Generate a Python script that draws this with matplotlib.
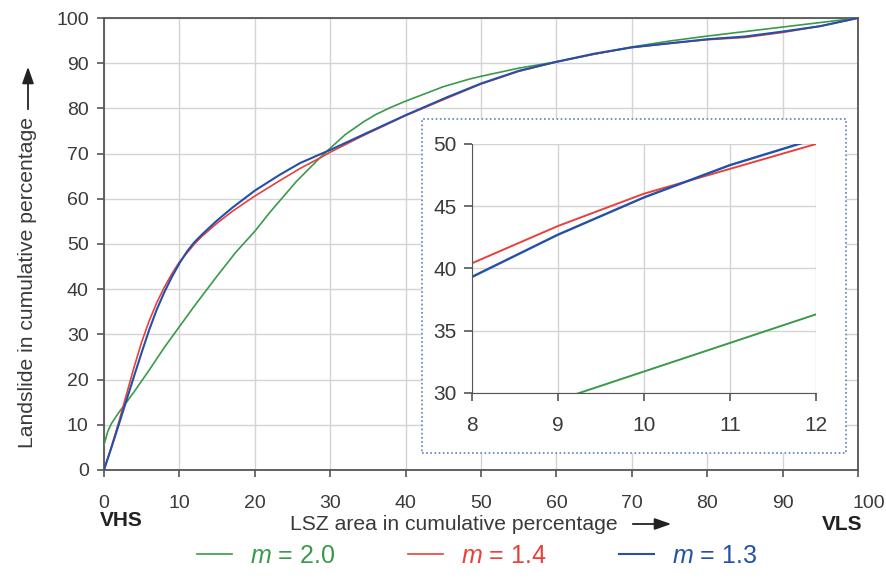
import matplotlib
matplotlib.use("Agg")
import matplotlib.pyplot as plt
from matplotlib.patches import Rectangle
from matplotlib.transforms import ScaledTranslation

plt.rcParams['font.family'] = ['Liberation Sans', 'DejaVu Sans']
plt.rcParams['mathtext.fontset'] = 'custom'
plt.rcParams['mathtext.rm'] = 'Liberation Sans'
plt.rcParams['mathtext.it'] = 'Liberation Sans:italic'

# cumulative curves (x = LSZ area %, y = landslide %)
green_x = [0, 0.5, 1, 2, 3, 4, 5, 6, 7, 8, 9, 10, 11, 12, 13, 15, 17.5, 20, 22, 25.5,
           28.6, 30, 32, 34.4, 36, 38, 40, 42.5, 45, 48.5, 50, 55, 60, 65, 70, 75, 80,
           85, 90, 95, 100]
green_y = [5.5, 8.5, 10.3, 12.8, 15.0, 17.3, 19.7, 22.1, 24.6, 27.1, 29.4, 31.7, 34.0, 36.3,
           38.5, 42.9, 48.2, 52.8, 57.0, 63.8, 69.0, 71.2, 74.2, 77.0, 78.6, 80.2, 81.6,
           83.2, 84.8, 86.5, 87.1, 88.9, 90.3, 92.0, 93.6, 94.9, 96.0, 97.0, 98.0, 99.0, 100]

red_x = [0, 1, 2, 3, 4, 5, 6, 7, 8, 9, 10, 10.5, 11, 12, 13, 15, 17, 20, 23.3, 26,
         28.6, 30, 34.4, 40, 45.4, 50, 55, 60, 65, 70, 75, 80, 85, 90, 95, 100]
red_y = [0, 5.2, 10.8, 16.8, 22.8, 28.3, 33.0, 37.0, 40.4, 43.4, 46.0, 47.0, 48.0, 50.0, 51.7,
         54.6, 57.2, 60.6, 64.0, 66.7, 69.0, 70.3, 74.0, 78.4, 82.2, 85.4, 88.2, 90.3, 92.0,
         93.5, 94.4, 95.2, 95.7, 96.8, 98.2, 100]

blue_x = [0, 1, 2, 3, 4, 5, 6, 7, 8, 9, 10, 10.5, 11, 11.8, 12, 13, 15, 17, 20, 23.3,
          26, 28.6, 30, 34.4, 40, 45.4, 50, 55, 60, 65, 70, 75, 80, 85, 90, 95, 100]
blue_y = [0, 5.0, 10.2, 15.5, 20.8, 26.0, 31.0, 35.5, 39.3, 42.7, 45.7, 47.0, 48.3, 50.0, 50.4,
          52.1, 55.2, 58.0, 61.8, 65.3, 67.9, 69.8, 70.8, 74.2, 78.5, 82.4, 85.5, 88.3, 90.3,
          92.1, 93.5, 94.4, 95.3, 95.9, 97.0, 98.2, 100]

labels = [r'$m$ = 2.0', r'$m$ = 1.4', r'$m$ = 1.3']
colors = ['#3a9a4a', '#e8413c', '#2350a8']
widths = [1.2, 1.2, 1.5]
series = [(green_x, green_y), (red_x, red_y), (blue_x, blue_y)]

main_xticks = list(range(0, 101, 10))
main_yticks = list(range(0, 101, 10))
inset_xticks = [8, 9, 10, 11, 12]
inset_yticks = [30, 35, 40, 45, 50]

grid_c = '#d4d4d4'
spine_c = '#555555'
text_c = '#3a3a3a'

fig = plt.figure(figsize=(8.87, 5.79), dpi=100)
ax = fig.add_axes([0.1172, 0.1883, 0.8501, 0.7806])

handles = []
for (xs, ys), lab, c, lw in zip(series, labels, colors, widths):
    h, = ax.plot(xs, ys, color=c, lw=lw, label=lab, zorder=4)
    handles.append(h)

ax.set_xlim(0, 100)
ax.set_ylim(0, 100)
ax.set_xticks(main_xticks)
ax.set_yticks(main_yticks)
ax.grid(True, color=grid_c, lw=1.0)
ax.set_axisbelow(True)
for s in ax.spines.values():
    s.set_color(spine_c)
    s.set_linewidth(1.3)
ax.tick_params(axis='x', length=5, width=1.2, color=spine_c, pad=13, labelsize=14, labelcolor=text_c)
ax.tick_params(axis='y', length=5, width=1.2, color=spine_c, pad=6, labelsize=14, labelcolor=text_c)
# last x label sits a bit to the right and runs off the edge
last = ax.get_xticklabels()[-1]
last.set_transform(last.get_transform() + ScaledTranslation(0.11, 0, fig.dpi_scale_trans))

# axis titles with arrows
fig.text(290 / 887, 1 - 525 / 579, 'LSZ area in cumulative percentage', fontsize=15.2,
         color=text_c, ha='left', va='center')
fig.text(28 / 887, 1 - 282 / 579, 'Landslide in cumulative percentage', fontsize=15.2,
         color=text_c, ha='center', va='center', rotation=90)
arrow = dict(arrowstyle='-|>,head_length=1.0,head_width=0.35', color='#222222', lw=1.3)
ax.annotate('', xy=(674 / 887, 1 - 524 / 579), xytext=(630 / 887, 1 - 524 / 579),
            xycoords='figure fraction', textcoords='figure fraction', arrowprops=arrow)
ax.annotate('', xy=(28 / 887, 1 - 64 / 579), xytext=(28 / 887, 1 - 112 / 579),
            xycoords='figure fraction', textcoords='figure fraction', arrowprops=arrow)
fig.text(100 / 887, 1 - 521 / 579, 'VHS', fontsize=15, fontweight='bold', color='#222222',
         ha='left', va='center')
fig.text(862 / 887, 1 - 524 / 579, 'VLS', fontsize=15, fontweight='bold', color='#222222',
         ha='right', va='center')

# dotted frame behind the zoomed inset
ax.add_patch(Rectangle((422 / 887, 1 - 453 / 579), 424 / 887, 334 / 579,
                       transform=fig.transFigure, facecolor='white', edgecolor='#5a80c4',
                       linestyle=(0, (1, 1.5)), lw=1.2, zorder=5, clip_on=False))

axi = fig.add_axes([0.5318, 0.3218, 0.3882, 0.4295])
for (xs, ys), c, lw in zip(series, colors, widths):
    axi.plot(xs, ys, color=c, lw=lw + 0.2)
axi.set_xlim(8, 12)
axi.set_ylim(30, 50)
axi.set_xticks(inset_xticks)
axi.set_yticks(inset_yticks)
axi.grid(True, color=grid_c, lw=1.0)
axi.set_axisbelow(True)
axi.spines['top'].set_visible(False)
axi.spines['right'].set_visible(False)
axi.spines['left'].set_color(spine_c)
axi.spines['bottom'].set_color(spine_c)
axi.tick_params(axis='x', length=6, width=1.2, color=spine_c, pad=11, labelsize=15, labelcolor=text_c)
axi.tick_params(axis='y', length=6, width=1.2, color=spine_c, pad=5, labelsize=15, labelcolor=text_c)

fig.legend(handles=handles, loc='center', bbox_to_anchor=(0.538, 1 - 556 / 579), ncol=3,
           frameon=False, fontsize=18, labelcolor='linecolor', handlelength=1.4,
           handletextpad=0.72, columnspacing=2.9)

fig.savefig('out.png', dpi=100)
